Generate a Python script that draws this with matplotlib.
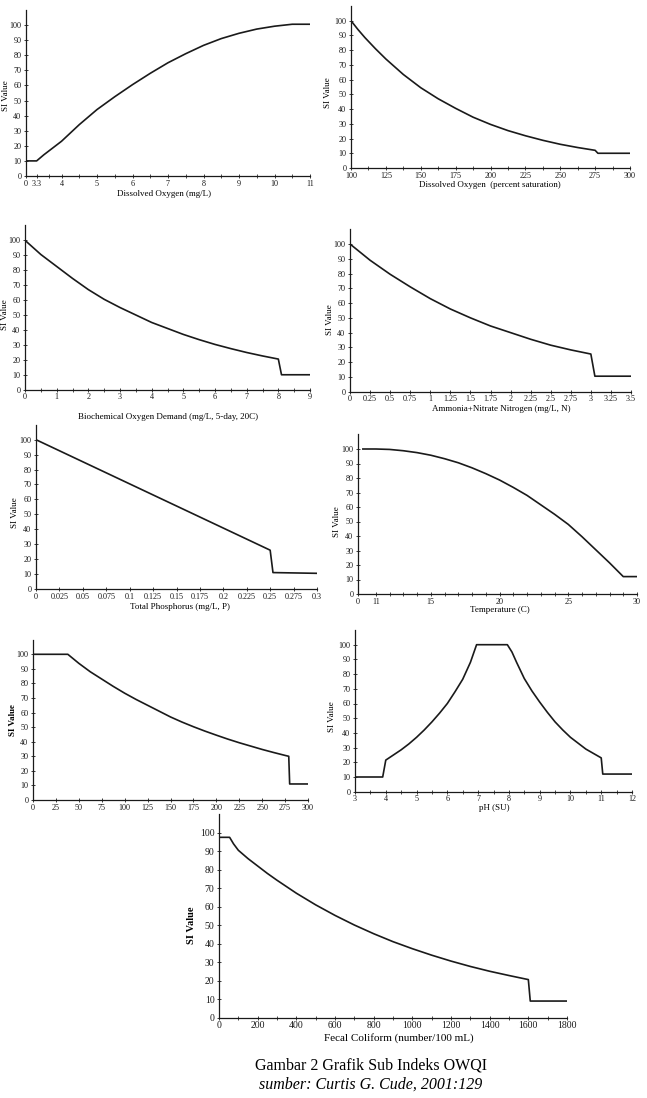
import numpy as np
import matplotlib
matplotlib.use('Agg')
import matplotlib.pyplot as plt
from matplotlib.ticker import FixedLocator, FuncFormatter

plt.rcParams['font.family'] = ['Liberation Serif', 'DejaVu Serif']

W, H = 647, 1098

# ---- values ----
do_mg_x = [0, 3.3, 3.5, 4, 4.5, 5, 5.5, 6, 6.5, 7, 7.5, 8, 8.5, 9, 9.5, 10, 10.5, 11]
do_mg_y = [10, 10, 14, 23, 34, 44, 52.5, 60.5, 68, 75, 81, 86.5, 91, 94.5, 97.3, 99.2, 100.5, 100.5]
do_mg_ticks = [0, 3.3, 4, 5, 6, 7, 8, 9, 10, 11]

do_sat_x = [100, 105, 110, 117.5, 125, 137.5, 150, 162.5, 175, 187.5, 200, 212.5, 225, 237.5, 250, 262.5, 275, 277, 300]
do_sat_y = [100, 94, 88.5, 81, 74, 63.5, 54.5, 47, 40.5, 34.5, 29.6, 25.4, 21.9, 18.8, 16.1, 13.9, 12, 10, 10]
do_sat_ticks = [100, 125, 150, 175, 200, 225, 250, 275, 300]

bod_x = [0, 0.5, 1, 1.5, 2, 2.5, 3, 3.5, 4, 4.5, 5, 5.5, 6, 6.5, 7, 7.5, 8, 8.1, 9]
bod_y = [100, 90.5, 82.5, 74.5, 67, 60.5, 55, 50, 45, 41, 37, 33.5, 30.3, 27.5, 24.9, 22.6, 20.5, 10, 10]
bod_ticks = [0, 1, 2, 3, 4, 5, 6, 7, 8, 9]

nit_x = [0, 0.25, 0.5, 0.75, 1, 1.25, 1.5, 1.75, 2, 2.25, 2.5, 2.75, 3, 3.05, 3.5]
nit_y = [100, 89, 79.5, 71, 63, 56, 50, 44.5, 40, 35.5, 31.5, 28.3, 25.5, 10.5, 10.5]
nit_ticks = [0, 0.25, 0.5, 0.75, 1, 1.25, 1.5, 1.75, 2, 2.25, 2.5, 2.75, 3, 3.25, 3.5]

tp_x = [0, 0.25, 0.253, 0.3]
tp_y = [100, 26, 11, 10.5]
tp_ticks = [0, 0.025, 0.05, 0.075, 0.1, 0.125, 0.15, 0.175, 0.2, 0.225, 0.25, 0.275, 0.3]

temp_x = [3, 11, 12, 13, 14, 15, 16, 17, 18, 19, 20, 21, 22, 23, 24, 25, 26, 27, 28, 29, 30]
temp_y = [100, 100, 99.7, 98.8, 97.5, 95.7, 93.3, 90.5, 87, 83, 78.6, 73.5, 68, 61.5, 55, 48, 39.5, 30.5, 21.5, 12, 12]
temp_ticks = [0, 11, 15, 20, 25, 30]

ts_x = [0, 38, 50, 62.5, 75, 87.5, 100, 112.5, 125, 137.5, 150, 162.5, 175, 187.5, 200,
        212.5, 225, 237.5, 250, 262.5, 275, 279, 280, 300]
ts_y = [100, 100, 93.8, 88, 83, 78, 73.3, 69, 65, 61, 57, 53.5, 50.3, 47.3, 44.5,
        41.8, 39.3, 37, 34.7, 32.6, 30.6, 30, 11, 11]
ts_ticks = [0, 25, 50, 75, 100, 125, 150, 175, 200, 225, 250, 275, 300]

ph_x = [3, 3.9, 4, 4.25, 4.5, 4.75, 5, 5.25, 5.5, 5.75, 6, 6.25, 6.5, 6.75, 6.95,
        7.95, 8.1, 8.25, 8.5, 8.75, 9, 9.25, 9.5, 9.75, 10, 10.25, 10.5, 10.75, 11, 11.05, 12]
ph_y = [10, 10, 21.5, 25, 28.5, 32.5, 37, 42, 47.5, 53.5, 60, 68, 76.5, 88, 100,
        100, 95, 88, 77, 68.5, 61, 54, 47.5, 42, 37, 33, 29, 26, 23, 12, 12]
ph_ticks = [3, 4, 5, 6, 7, 8, 9, 10, 11, 12]

fc_x = [0, 55, 75, 100, 150, 200, 250, 300, 400, 500, 600, 700, 800, 900, 1000,
        1100, 1200, 1300, 1400, 1500, 1600, 1610, 1800]
fc_y = [97.5, 97.5, 94, 90.5, 86, 82, 78, 74.3, 67.3, 61, 55.3, 50.1, 45.4, 41.1, 37.3,
        33.8, 30.6, 27.7, 25.1, 22.8, 20.6, 9, 9]
fc_ticks = [0, 200, 400, 600, 800, 1000, 1200, 1400, 1600, 1800]

si_ticks = list(range(0, 101, 10))


def broken(cut, width):
    # squeeze [0, cut] into `width` units, plain linear after the cut
    def fwd(v):
        v = np.asarray(v, dtype=float)
        return np.where(v <= cut, v * width / cut, width + (v - cut))
    def inv(u):
        u = np.asarray(u, dtype=float)
        return np.where(u <= width, u * cut / width, cut + (u - width))
    return fwd, inv


fig = plt.figure(figsize=(W / 100, H / 100), dpi=100)


def panel(left, right, y0, y100, x, y, xticks, minor, xlabel, xlab, ylab,
          scale=None, big=False, bold=False):
    per = (y0 - y100) / 100.0
    top = y0 - 110 * per
    ax = fig.add_axes([left / W, 1 - y0 / H, (right - left) / W, (y0 - top) / H])
    if scale is not None:
        ax.set_xscale('function', functions=scale)
    ax.plot(x, y, color='#1a1a1a', lw=1.2, solid_joinstyle='round')
    ax.set_xlim(xticks[0], xticks[-1])
    ax.set_ylim(0, 110)
    ax.xaxis.set_major_locator(FixedLocator(xticks))
    ax.xaxis.set_minor_locator(FixedLocator(minor))
    ax.yaxis.set_major_locator(FixedLocator(si_ticks))
    ax.xaxis.set_major_formatter(FuncFormatter(lambda v, p: f'{v:g}'))
    ax.yaxis.set_major_formatter(FuncFormatter(lambda v, p: f'{v:g}'))
    for s in ['top', 'right']:
        ax.spines[s].set_visible(False)
    for s in ['left', 'bottom']:
        ax.spines[s].set_linewidth(0.9)
        ax.spines[s].set_color('#1a1a1a')
    ax.tick_params(which='major', direction='inout', length=3.5, width=0.6,
                   labelsize=7 if big else 5.9, pad=1.5, colors='#1a1a1a')
    ax.tick_params(axis='x', which='major', pad=0.8)
    ax.tick_params(which='minor', direction='inout', length=2.5, width=0.5)
    fs = 8 if big else 6.5
    if xlabel:
        ax.set_xlabel(xlabel, fontsize=fs, va='center')
        ax.xaxis.set_label_coords((xlab[0] - left) / (right - left), (y0 - xlab[1]) / (y0 - top))
    ax.set_ylabel('SI Value', fontsize=7.5 if big else 6.5, va='center',
                  fontweight='bold' if bold else 'normal')
    ax.yaxis.set_label_coords((ylab[0] - left) / (right - left), (y0 - ylab[1]) / (y0 - top))
    return ax


def mids(t):
    return [(a + b) / 2 for a, b in zip(t[:-1], t[1:])]


panel(26, 310, 176, 25, do_mg_x, do_mg_y, do_mg_ticks, mids(do_mg_ticks[1:]),
      'Dissolved Oxygen (mg/L)', (164, 193.5), (6, 96), scale=broken(3.3, 0.3))
panel(351, 630, 168, 20.7, do_sat_x, do_sat_y, do_sat_ticks, mids(do_sat_ticks),
      'Dissolved Oxygen  (percent saturation)', (490, 185), (328, 93))
panel(25, 310, 389.7, 240.3, bod_x, bod_y, bod_ticks, mids(bod_ticks),
      'Biochemical Oxygen Demand (mg/L, 5-day, 20C)', (168, 417), (5, 315))
panel(350, 631, 391.7, 244, nit_x, nit_y, nit_ticks, [],
      'Ammonia+Nitrate Nitrogen (mg/L, N)', (501, 409.5), (330, 320))
panel(36, 317, 589, 439.7, tp_x, tp_y, tp_ticks, [],
      'Total Phosphorus (mg/L, P)', (180, 607), (15, 513))
panel(358, 637, 594, 449, temp_x, temp_y, temp_ticks, list(range(12, 30)),
      'Temperature (C)', (500, 610.5), (337, 522), scale=broken(11, 1.3))
panel(33, 308, 800, 654.3, ts_x, ts_y, ts_ticks, [],
      None, None, (13, 720), bold=True)
panel(355, 632, 791.7, 644.7, ph_x, ph_y, ph_ticks, mids(ph_ticks),
      'pH (SU)', (494, 808), (332, 717))
panel(219, 567, 1017.7, 832.7, fc_x, fc_y, fc_ticks, mids(fc_ticks),
      'Fecal Coliform (number/100 mL)', (399, 1038), (192, 925), big=True, bold=True)

fig.text(371 / W, 1 - 1066 / H, 'Gambar 2 Grafik Sub Indeks OWQI',
         ha='center', va='center', fontsize=11.5)
fig.text(371 / W, 1 - 1085 / H, 'sumber: Curtis G. Cude, 2001:129',
         ha='center', va='center', fontsize=11.5, style='italic')

fig.savefig('out.png', dpi=100)
